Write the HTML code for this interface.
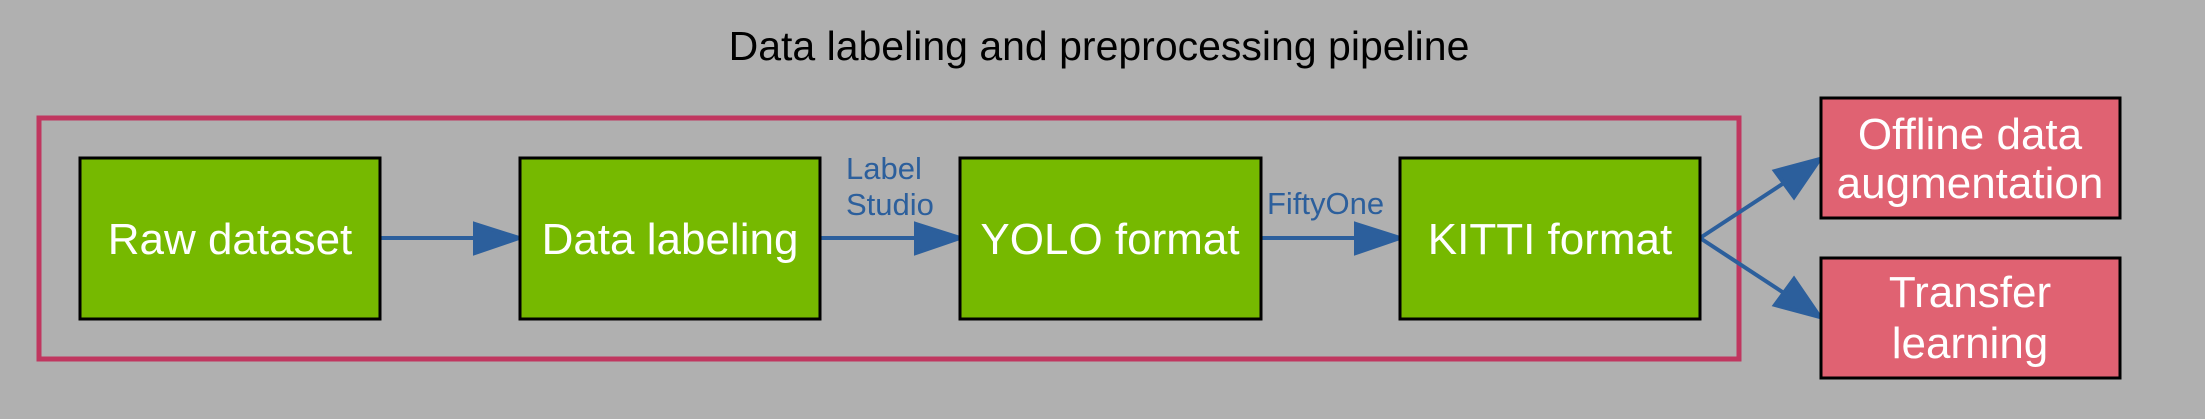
<!DOCTYPE html>
<html><head><meta charset="utf-8"><style>
html,body{margin:0;padding:0;background:#b0b0b0;}
svg{display:block;font-family:"Liberation Sans",sans-serif;}
</style></head><body>
<svg width="2205" height="419" viewBox="0 0 2205 419">
<rect x="0" y="0" width="2205" height="419" fill="#b0b0b0"/>
<text x="1099" y="60" font-size="41" text-anchor="middle" fill="#000">Data labeling and preprocessing pipeline</text>
<rect x="39" y="118" width="1700" height="241" fill="none" stroke="#c0365f" stroke-width="5"/>
<g stroke="#2c5f9c" stroke-width="4" fill="#2c5f9c">
<line x1="380" y1="238" x2="476" y2="238"/>
<polygon points="475,224 519,238 475,253"/>
<line x1="820" y1="238" x2="917" y2="238"/>
<polygon points="916,224 960,238 916,253"/>
<line x1="1261" y1="238" x2="1357" y2="238"/>
<polygon points="1356,224 1400,238 1356,253"/>
<line x1="1700" y1="238" x2="1790" y2="179"/>
<polygon points="1775,171 1820,159 1794,197"/>
<line x1="1700" y1="238" x2="1790" y2="297"/>
<polygon points="1794,279 1820,317 1775,305"/>
</g>
<g font-size="31" fill="#2c5f9c">
<text x="846" y="179">Label</text>
<text x="846" y="215">Studio</text>
<text x="1267" y="214">FiftyOne</text>
</g>
<g stroke="#000" stroke-width="3" fill="#76b900">
<rect x="80" y="158" width="300" height="161"/>
<rect x="520" y="158" width="300" height="161"/>
<rect x="960" y="158" width="301" height="161"/>
<rect x="1400" y="158" width="300" height="161"/>
</g>
<g stroke="#000" stroke-width="3" fill="#e06272">
<rect x="1821" y="98" width="299" height="120"/>
<rect x="1821" y="258" width="299" height="120"/>
</g>
<g font-size="44" fill="#fff" text-anchor="middle">
<text x="230" y="254">Raw dataset</text>
<text x="670" y="254">Data labeling</text>
<text x="1110" y="254">YOLO format</text>
<text x="1550" y="254">KITTI format</text>
<text x="1970" y="149">Offline data</text>
<text x="1970" y="198">augmentation</text>
<text x="1970" y="307">Transfer</text>
<text x="1970" y="358">learning</text>
</g>
</svg>
</body></html>
